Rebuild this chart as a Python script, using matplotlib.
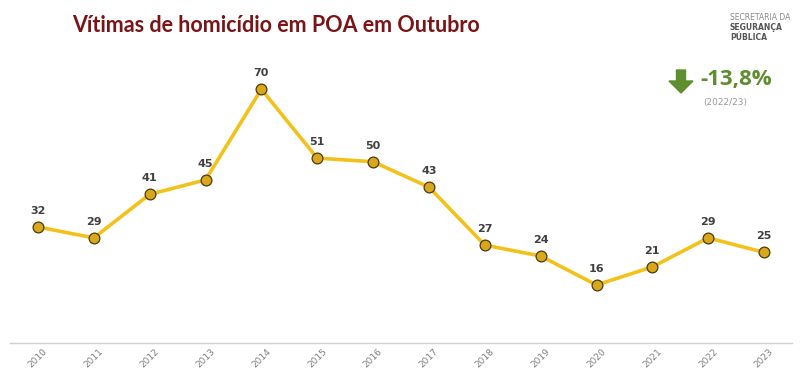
import matplotlib
matplotlib.use("Agg")
import matplotlib.pyplot as plt
from matplotlib.patches import FancyArrow

years = ["2010", "2011", "2012", "2013", "2014", "2015", "2016",
         "2017", "2018", "2019", "2020", "2021", "2022", "2023"]
victims = [32, 29, 41, 45, 70, 51, 50, 43, 27, 24, 16, 21, 29, 25]

fig = plt.figure(figsize=(8, 3.76), dpi=100)
ax = fig.add_axes([10/800, 33/376, 782/800, 290/376])
x = list(range(len(years)))
ax.plot(x, victims, color="#F2C21B", lw=2.6, zorder=2)
ax.scatter(x, victims, s=60, color="#D9A81A", edgecolor="#4a3a10", linewidth=0.9, zorder=3)
for xi, v in zip(x, victims):
    ax.annotate(str(v), (xi, v), xytext=(0, 8), textcoords="offset points",
                ha="center", va="bottom", fontsize=8, fontweight="bold", color="#404040")
ax.set_xlim(-0.5, 13.5)
ax.set_ylim(0, 80)
ax.set_xticks(x)
ax.set_xticklabels(years, rotation=45, fontsize=6.5, color="#808080", ha="center")
ax.tick_params(axis="x", length=0, pad=3)
ax.set_yticks([])
for s in ["top", "right", "left"]:
    ax.spines[s].set_visible(False)
ax.spines["bottom"].set_color("#d0d0d0")
ax.spines["bottom"].set_linewidth(1)

fig.text(72/800, 1 - 25/376, "Vítimas de homicídio em POA em Outubro", fontsize=15.5,
         fontweight="bold", color="#7B1416", va="center", ha="left", family="Lato")

# Indicator
fig.text(700/800, 1 - 80/376, "-13,8%", fontsize=16, fontweight="bold", color="#5E8E2E",
         va="center", ha="left", family="Open Sans")
fig.text(725/800, 1 - 103/376, "(2022/23)", fontsize=6.5, color="#999999",
         va="center", ha="center")
fig.patches.append(FancyArrow(681/800, 1 - 70/376, 0, -23/376, width=9/800,
                              head_width=24/800, head_length=12/376,
                              length_includes_head=True, color="#5E8E2E",
                              transform=fig.transFigure, figure=fig))

# Logo text
fig.text(730/800, 1 - 17/376, "SECRETARIA DA", fontsize=5.5, color="#888888", va="center")
fig.text(730/800, 1 - 27/376, "SEGURANÇA", fontsize=5.5, fontweight="bold", color="#555555", va="center")
fig.text(730/800, 1 - 37/376, "PÚBLICA", fontsize=5.5, fontweight="bold", color="#555555", va="center")

fig.savefig("out.png", dpi=100)
